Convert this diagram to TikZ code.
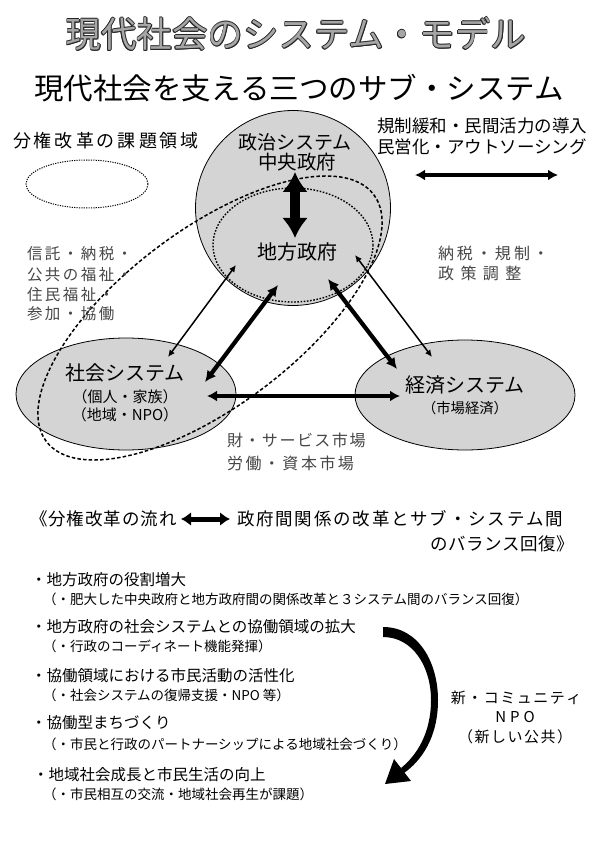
\documentclass[tikz,border=0pt]{standalone}
\usepackage{fontspec}
\setmainfont{Noto Sans CJK JP}
\usetikzlibrary{arrows.meta,shapes.geometric}
\def\spc#1#2{\def\spcamt{#1}\spcloop#2\relax}
\def\spcloop#1{\ifx#1\relax\unskip\else#1\hskip\spcamt\relax\expandafter\spcloop\fi}
\newcommand\fs[1]{\fontsize{#1}{#1}\selectfont}
\newcommand\titletext{現代社会のシステム・モデル}
\begin{document}
\begin{tikzpicture}[x=1pt,y=-1pt,
  sysnode/.style={draw=black,line width=0.8pt,fill=black!17,inner sep=0pt},
  lbl/.style={inner sep=0pt,outer sep=0pt},
  gtxt/.style={lbl,text=black!72},
  thinarr/.style={line width=1.5pt,{Latex[length=7pt,width=6.5pt]}-{Latex[length=7pt,width=6.5pt]}},
  thickarr/.style={line width=4.2pt,{Latex[length=11pt,width=11pt]}-{Latex[length=11pt,width=11pt]}},
  outerloop/.style={line width=1.5pt,dash pattern=on 3.5pt off 2.2pt},
  innerloop/.style={line width=1.4pt,dash pattern=on 1.6pt off 1.6pt},
]
\fill[white] (0,0) rectangle (595,842);
\useasboundingbox (0,0) rectangle (595,842);

% titles (outlined lettering)
\foreach \dx/\dy [count=\i] in {0.75/0,-0.75/0,0/0.75,0/-0.75,0.53/0.53,-0.53/0.53,0.53/-0.53,-0.53/-0.53}
  \node[lbl,text=black!85] (titleo\i) at (296+\dx,34+\dy) {\fs{35.5}\titletext};
\node[lbl,text=black!35] (title) at (296,34) {\fs{35.5}\titletext};
\node[lbl] (subtitle) at (299,88) {\fs{29.5}現代社会を支える三つのサブ・システム};

% systems
\node[circle,sysnode,minimum size=195pt] (pol) at (293,208) {};
\node[ellipse,sysnode,minimum width=220pt,minimum height=112pt] (soc) at (126,394) {};
\node[ellipse,sysnode,minimum width=220pt,minimum height=110pt] (eco) at (465,395) {};

% dashed areas
\draw[line width=1pt,dash pattern=on 1.2pt off 1.2pt] (87,184) ellipse [x radius=61, y radius=24];
\draw[outerloop,rotate around={37:(210,318)}] (210,318) ellipse [x radius=205, y radius=88];
\draw[innerloop] (293,245) ellipse [x radius=80, y radius=57];

% arrows
\coordinate (v1) at (295,172); \coordinate (v2) at (295,238);
\draw[line width=10pt,{Latex[length=20pt,width=26pt]}-{Latex[length=20pt,width=26pt]}] (v1) -- (v2);
\coordinate (a1) at (236,265); \coordinate (a2) at (168,357);
\draw[thinarr] (a1) -- (a2);
\coordinate (b1) at (278,285); \coordinate (b2) at (205,382);
\draw[thickarr] (b1) -- (b2);
\coordinate (c1) at (328,279); \coordinate (c2) at (397,369);
\draw[thickarr] (c1) -- (c2);
\coordinate (d1) at (355,255); \coordinate (d2) at (432,357);
\draw[thinarr] (d1) -- (d2);
\coordinate (e1) at (207,396); \coordinate (e2) at (400,396);
\draw[line width=4pt,{Latex[length=10pt,width=11pt]}-{Latex[length=10pt,width=11pt]}] (e1) -- (e2);
\coordinate (t1) at (415,175); \coordinate (t2) at (558,175);
\draw[line width=4pt,{Latex[length=10pt,width=11pt]}-{Latex[length=10pt,width=11pt]}] (t1) -- (t2);

% system labels
\node[lbl] (polA) at (295,142) {\fs{19}政治システム};
\node[lbl] (polB) at (297,162) {\fs{19.5}中央政府};
\node[lbl] (loc) at (297,252) {\fs{20}地方政府};
\node[lbl] (socA) at (125,373) {\fs{20}社会システム};
\node[lbl] (socB) at (125,397) {\fs{15}（個人・家族）};
\node[lbl] (socC) at (125,415) {\fs{15}（地域・NPO）};
\node[lbl] (ecoA) at (465,385) {\fs{20}経済システム};
\node[lbl] (ecoB) at (465,408) {\fs{14.3}（市場経済）};

% side labels
\node[lbl,anchor=west] (task) at (13,141) {\fs{18}\spc{3pt}{分権改革の課題領域}};
\node[lbl,anchor=west] (dereg1) at (377,126) {\fs{17.5}規制緩和・民間活力の導入};
\node[lbl,anchor=west] (dereg2) at (377,147) {\fs{17.5}民営化・アウトソーシング};
\node[gtxt,anchor=west] (l1) at (27,254) {\fs{15.5}\spc{2.5pt}{信託・納税・}};
\node[gtxt,anchor=west] (l2) at (27,275) {\fs{15.5}\spc{2.5pt}{公共の福祉・}};
\node[gtxt,anchor=west] (l3) at (27,295) {\fs{15.5}\spc{2.5pt}{住民福祉・}};
\node[gtxt,anchor=west] (l4) at (27,314) {\fs{15.5}\spc{2.5pt}{参加・協働}};
\node[gtxt,anchor=west] (r1) at (438,253) {\fs{16}\spc{3pt}{納税・規制・}};
\node[gtxt,anchor=west] (r2) at (438,273) {\fs{16}\spc{6.5pt}{政策調整}};
\node[gtxt,anchor=west] (m1) at (227,440) {\fs{16}\spc{1.5pt}{財・サービス市場}};
\node[gtxt,anchor=west] (m2) at (227,463) {\fs{16}\spc{2.5pt}{労働・資本市場}};

% flow line
\node[lbl,anchor=west] (flowA) at (30,519) {\fs{17.5}\spc{1pt}{《分権改革の流れ}};
\coordinate (f1) at (181,519); \coordinate (f2) at (230,519);
\draw[line width=5pt,{Latex[length=10pt,width=14pt]}-{Latex[length=10pt,width=14pt]}] (f1) -- (f2);
\node[lbl,anchor=west] (flowB) at (237,519) {\fs{17.5}\spc{1.8pt}{政府間関係の改革とサブ・システム間}};
\node[lbl,anchor=east] (flowC) at (574,544) {\fs{17.5}\spc{0.5pt}{のバランス回復》}};

% bullet list
\node[lbl,anchor=west] (p1) at (31,580) {\fs{15.5}・地方政府の役割増大};
\node[lbl,anchor=west] (s1) at (43,599) {\fs{13.5}（・肥大した中央政府と地方政府間の関係改革と３システム間のバランス回復）};
\node[lbl,anchor=west] (p2) at (31,627) {\fs{15.5}・地方政府の社会システムとの協働領域の拡大};
\node[lbl,anchor=west] (s2) at (43,646) {\fs{13.5}（・行政のコーディネート機能発揮）};
\node[lbl,anchor=west] (p3) at (31,676) {\fs{15.5}・協働領域における市民活動の活性化};
\node[lbl,anchor=west] (s3) at (43,695) {\fs{13.5}（・社会システムの復帰支援・NPO 等）};
\node[lbl,anchor=west] (p4) at (31,723) {\fs{15.5}・協働型まちづくり};
\node[lbl,anchor=west] (s4) at (43,744) {\fs{13.5}（・市民と行政のパートナーシップによる地域社会づくり）};
\node[lbl,anchor=west] (p5) at (33,775) {\fs{15.5}・地域社会成長と市民生活の向上};
\node[lbl,anchor=west] (s5) at (43,794) {\fs{13.5}（・市民相互の交流・地域社会再生が課題）};

% curved arrow
\fill (383,627) .. controls (419,627) and (438,663) .. (438,700)
  .. controls (438,738) and (421,761) .. (404,773) -- (401,768)
  .. controls (416,756) and (431,734) .. (431,700)
  .. controls (431,667) and (413,637) .. (383,637) -- cycle;
\fill (411,781) -- (385,784) -- (394,759) -- cycle;

\node[lbl] (nc1) at (516,698) {\fs{15}\spc{1.5pt}{新・コミュニティ}};
\node[lbl] (nc2) at (515,717) {\fs{15}\spc{4pt}{NPO}};
\node[lbl] (nc3) at (515,737) {\fs{15}\spc{1.5pt}{（新しい公共）}};
\end{tikzpicture}
\end{document}
